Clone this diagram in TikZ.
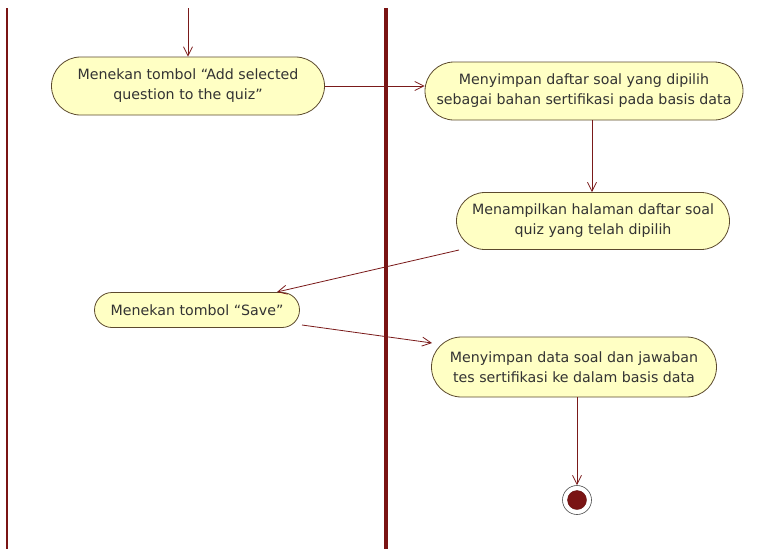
\documentclass[tikz,border=0pt]{standalone}
\usepackage{fontspec}
\setmainfont{DejaVu Sans}
\usetikzlibrary{shapes.misc,arrows.meta}
\definecolor{lane}{HTML}{7A1414}
\definecolor{flow}{HTML}{7A1A1A}
\definecolor{actfill}{HTML}{FFFFC4}
\definecolor{actline}{HTML}{5C4A2E}
\definecolor{txt}{HTML}{333333}
\begin{document}
\begin{tikzpicture}[x=1pt,y=-1pt,
  action/.style={rounded rectangle, draw=actline, fill=actfill, line width=0.8pt,
    text=txt, align=center, inner sep=0pt,
    font=\fontsize{14.2}{20}\selectfont},
  flowline/.style={draw=flow, line width=0.8pt,
    -{Straight Barb[angle=60:9pt,length=9pt]}},
  laneline/.style={draw=lane, line width=3.5pt}]
  \useasboundingbox (0,0) rectangle (758,549);
  \fill[white] (0,0) rectangle (758,549);

  % swimlane separators
  \coordinate (l1t) at (7,8);    \coordinate (l1b) at (7,549);
  \coordinate (l2t) at (386,8);  \coordinate (l2b) at (386,549);
  \draw[laneline, line width=2.5pt] (l1t) -- (l1b);
  \draw[laneline] (l2t) -- (l2b);

  % actions
  \node[action, minimum width=273, minimum height=58] (a1) at (188,86)
    {Menekan tombol “Add selected\\question to the quiz”};
  \node[action, minimum width=318, minimum height=58] (a2) at (584,91)
    {Menyimpan daftar soal yang dipilih\\sebagai bahan sertifikasi pada basis data};
  \node[action, minimum width=273, minimum height=57] (a3) at (593,221)
    {Menampilkan halaman daftar soal\\quiz yang telah dipilih};
  \node[action, minimum width=205, minimum height=35] (a4) at (197,310)
    {Menekan tombol “Save”};
  \node[action, minimum width=285, minimum height=60] (a5) at (574,367)
    {Menyimpan data soal dan jawaban\\tes sertifikasi ke dalam basis data};

  % final node
  \node[circle, draw=black!70, fill=white, line width=0.6pt, minimum size=29, inner sep=0pt] (fin) at (577,500) {};
  \node[circle, draw=lane!80!black, fill=lane, minimum size=19, inner sep=0pt] (finc) at (577,500) {};

  % connector end points on the action borders
  \coordinate (start) at (188,8);
  \coordinate (a3o) at (459,250);
  \coordinate (a4i) at (277,292);
  \coordinate (a4o) at (302,325);
  \coordinate (a5i) at (432,343);

  % control flow
  \draw[flowline] (start) -- (a1.north);
  \draw[flowline] (a1.east) -- (a1.east -| a2.west);
  \draw[flowline] (a2.south -| 592,0) -- (a3.north -| 592,0);
  \draw[flowline] (a3o) -- (a4i);
  \draw[flowline] (a4o) -- (a5i);
  \draw[flowline] (a5.south -| fin) -- (fin.north);
\end{tikzpicture}
\end{document}
